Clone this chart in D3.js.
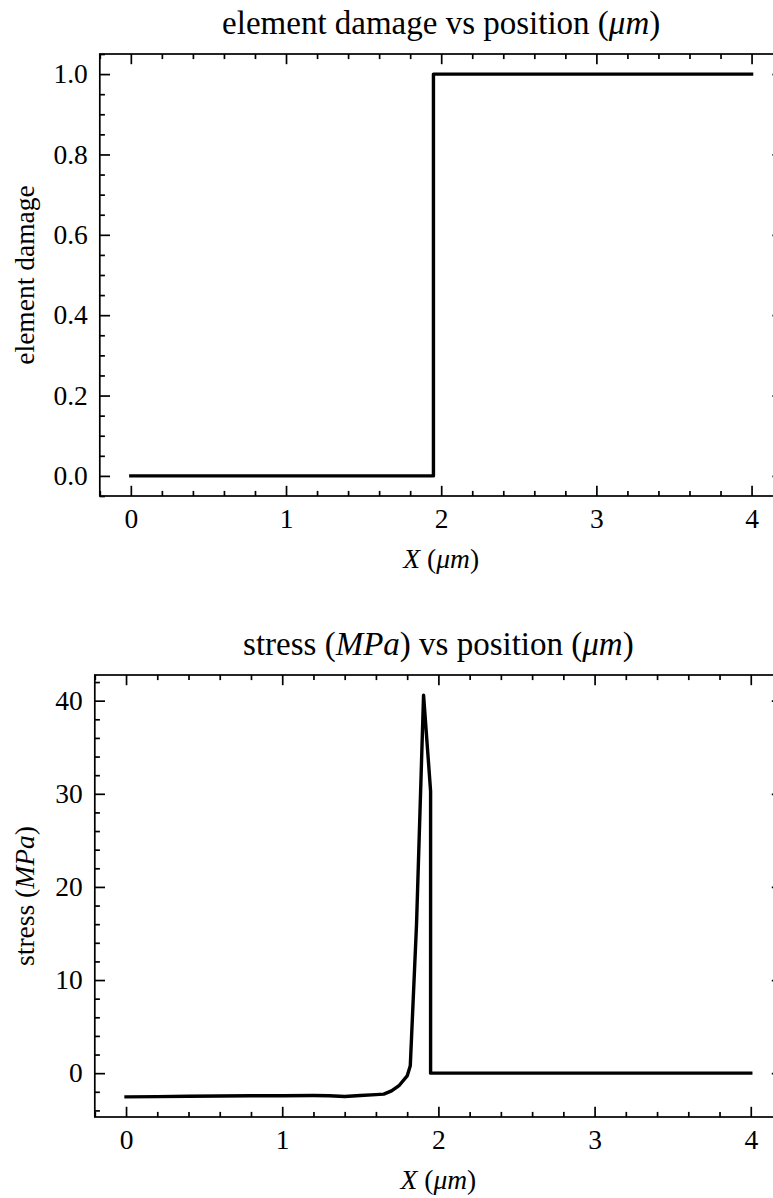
<!DOCTYPE html>
<html>
<head>
<meta charset="utf-8">
<script src="https://cdn.jsdelivr.net/npm/d3@7"></script>
<style>
  html, body { margin: 0; padding: 0; background: #fff; }
  svg { display: block; }
  text { font-family: "Liberation Serif", "Times New Roman", serif; fill: #000; }
</style>
</head>
<body>
<div id="chart"></div>
<script>
// data
const damageX = [0, 1.95, 1.95, 4.0];
const damageY = [0, 0, 1, 1];

const stressX = [0, 0.2, 0.4, 0.6, 0.8, 1.0, 1.2, 1.3, 1.4, 1.5, 1.6, 1.65, 1.7, 1.75, 1.8, 1.82, 1.86, 1.905, 1.95, 1.95, 4.0];
const stressY = [-2.55, -2.52, -2.48, -2.45, -2.42, -2.42, -2.40, -2.42, -2.50, -2.40, -2.30, -2.25, -1.9, -1.3, -0.3, 0.8, 16, 40.6, 30.3, 0, 0];

const xTicks = [0, 1, 2, 3, 4];
const damageTicks = [0, 0.2, 0.4, 0.6, 0.8, 1.0];
const stressTicks = [0, 10, 20, 30, 40];

const width = 773;
const height = 1198;
const fontSize = 27.5;
const pxPt = 3.4;

let svg = d3.select("#chart").append("svg")
    .attr("width", width)
    .attr("height", height);

drawPanel({
    left: 99.8, right: 782.6, top: 54, bottom: 496,
    xs: damageX, ys: damageY,
    yTicks: damageTicks, yMinorStep: 0.05, yFormat: d3.format(".1f"),
    title: [["element damage vs position ", false], ["(", false], ["μm", true], [")", false]],
    ylabel: [["element damage", false]]
});

drawPanel({
    left: 94.8, right: 782, top: 675, bottom: 1117,
    xs: stressX, ys: stressY,
    yTicks: stressTicks, yMinorStep: 2, yFormat: d3.format("d"),
    title: [["stress ", false], ["(", false], ["MPa", true], [")", false], [" vs position ", false], ["(", false], ["μm", true], [")", false]],
    ylabel: [["stress ", false], ["(", false], ["MPa", true], [")", false]]
});

function pad(ext) {
    let d = (ext[1] - ext[0]) * 0.05;
    return [ext[0] - d, ext[1] + d];
}

function addParts(sel, parts) {
    parts.forEach(p => {
        sel.append("tspan")
            .style("font-style", p[1] ? "italic" : "normal")
            .text(p[0]);
    });
}

function drawPanel(o) {
    const x = d3.scaleLinear().domain(pad(d3.extent(o.xs))).range([o.left, o.right]);
    const y = d3.scaleLinear().domain(pad(d3.extent(o.ys))).range([o.bottom, o.top]);

    const xd = x.domain(), yd = y.domain();
    const xMinor = d3.range(Math.ceil(xd[0] / 0.2) * 0.2, xd[1] + 1e-9, 0.2).filter(v => Math.abs(v - Math.round(v)) > 1e-6);
    const yMinor = d3.range(Math.ceil(yd[0] / o.yMinorStep) * o.yMinorStep, yd[1] + 1e-9, o.yMinorStep)
        .filter(v => !o.yTicks.some(t => Math.abs(t - v) < 1e-6));

    let g = svg.append("g");
    const major = 3 * pxPt, minor = 1.5 * pxPt;

    function styleAxis(a) {
        a.select(".domain").remove();
        a.selectAll("line").attr("stroke", "#000").attr("stroke-width", 0.5 * pxPt);
        a.attr("font-family", null).attr("font-size", null);
        a.selectAll("text").style("font-size", fontSize + "px");
    }

    // bottom
    g.append("g").attr("transform", `translate(0,${o.bottom})`)
        .call(d3.axisBottom(x).tickValues(xTicks).tickSizeInner(-major).tickSizeOuter(0).tickPadding(12).tickFormat(d3.format("d")))
        .call(styleAxis);
    g.append("g").attr("transform", `translate(0,${o.bottom})`)
        .call(d3.axisBottom(x).tickValues(xMinor).tickSizeInner(-minor).tickSizeOuter(0).tickFormat(""))
        .call(styleAxis);
    // top
    g.append("g").attr("transform", `translate(0,${o.top})`)
        .call(d3.axisTop(x).tickValues(xTicks).tickSizeInner(-major).tickSizeOuter(0).tickFormat(""))
        .call(styleAxis);
    g.append("g").attr("transform", `translate(0,${o.top})`)
        .call(d3.axisTop(x).tickValues(xMinor).tickSizeInner(-minor).tickSizeOuter(0).tickFormat(""))
        .call(styleAxis);
    // left
    g.append("g").attr("transform", `translate(${o.left},0)`)
        .call(d3.axisLeft(y).tickValues(o.yTicks).tickSizeInner(-major).tickSizeOuter(0).tickPadding(12).tickFormat(o.yFormat))
        .call(styleAxis);
    g.append("g").attr("transform", `translate(${o.left},0)`)
        .call(d3.axisLeft(y).tickValues(yMinor).tickSizeInner(-minor).tickSizeOuter(0).tickFormat(""))
        .call(styleAxis);
    // right
    g.append("g").attr("transform", `translate(${o.right},0)`)
        .call(d3.axisRight(y).tickValues(o.yTicks).tickSizeInner(-major).tickSizeOuter(0).tickFormat(""))
        .call(styleAxis);
    g.append("g").attr("transform", `translate(${o.right},0)`)
        .call(d3.axisRight(y).tickValues(yMinor).tickSizeInner(-minor).tickSizeOuter(0).tickFormat(""))
        .call(styleAxis);

    // spines
    g.append("rect")
        .attr("x", o.left).attr("y", o.top)
        .attr("width", o.right - o.left).attr("height", o.bottom - o.top)
        .attr("fill", "none").attr("stroke", "#000").attr("stroke-width", 0.5 * pxPt);

    // line
    const pts = o.xs.map((v, i) => [v, o.ys[i]]);
    g.append("path")
        .datum(pts)
        .attr("fill", "none")
        .attr("stroke", "#000")
        .attr("stroke-width", 1.0 * pxPt)
        .attr("stroke-linejoin", "round")
        .attr("stroke-linecap", "square")
        .attr("d", d3.line().x(d => x(d[0])).y(d => y(d[1])));

    const cx = (o.left + o.right) / 2;
    const cy = (o.top + o.bottom) / 2;

    // title
    let t = g.append("text")
        .attr("x", cx).attr("y", o.top - 20)
        .attr("text-anchor", "middle")
        .style("font-size", (fontSize * 1.2) + "px");
    addParts(t, o.title);

    // x label
    let xl = g.append("text")
        .attr("x", cx).attr("y", o.bottom + 71.5)
        .attr("text-anchor", "middle")
        .style("font-size", fontSize + "px");
    addParts(xl, [["X", true], [" (", false], ["μm", true], [")", false]]);

    // y label
    let yl = g.append("text")
        .attr("transform", `translate(34,${cy}) rotate(-90)`)
        .attr("text-anchor", "middle")
        .style("font-size", fontSize + "px");
    addParts(yl, o.ylabel);
}
</script>
</body>
</html>
